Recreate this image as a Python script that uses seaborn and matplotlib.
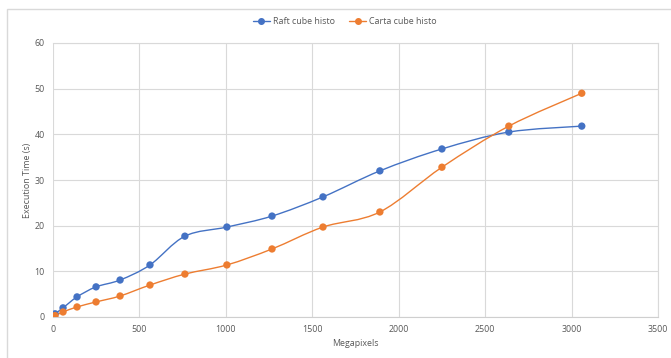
import numpy as np
import pandas as pd
import matplotlib
matplotlib.use("Agg")
import matplotlib.pyplot as plt
import seaborn as sns
from matplotlib.path import Path
from matplotlib.patches import PathPatch, Rectangle
from matplotlib.lines import Line2D

megapixels = [12, 58, 139, 249, 388, 561, 763, 1006, 1267, 1562, 1891, 2250, 2637, 3059]
raft_times = [0.7, 2.0, 4.4, 6.6, 8.1, 11.4, 17.7, 19.7, 22.1, 26.3, 32.0, 36.8, 40.5, 41.8]
carta_times = [0.3, 1.1, 2.2, 3.3, 4.6, 7.0, 9.4, 11.4, 14.9, 19.7, 23.0, 32.8, 41.8, 49.0]
series_names = ["Raft cube histo", "Carta cube histo"]
x_ticks = [0, 500, 1000, 1500, 2000, 2500, 3000, 3500]
y_ticks = [0, 10, 20, 30, 40, 50, 60]

colors = ["#4472C4", "#ED7D31"]
text_gray = "#595959"
grid_gray = "#D9D9D9"
font_size = 6.4

df = pd.DataFrame({
    "Megapixels": megapixels * 2,
    "Time": raft_times + carta_times,
    "Series": [series_names[0]] * len(megapixels) + [series_names[1]] * len(megapixels),
})

sns.set_theme(style="white")
plt.rcParams["font.family"] = ["Open Sans", "DejaVu Sans"]

fig = plt.figure(figsize=(6.71, 3.58), dpi=100)
ax = fig.add_axes([53 / 671, 1 - 317 / 358, 605 / 671, 274 / 358])

# chart frame (open towards the right and bottom edges of the image)
fig.patches.append(Rectangle((7 / 671, -10 / 358), 680 / 671, 359 / 358,
                             transform=fig.transFigure, fill=False,
                             edgecolor=grid_gray, linewidth=1.0))


def smooth_path(xs, ys):
    """Cubic Bezier through the points (Catmull-Rom style tangents)."""
    pts = np.column_stack([xs, ys]).astype(float)
    n = len(pts)
    verts = [pts[0]]
    codes = [Path.MOVETO]
    for i in range(n - 1):
        p0 = pts[i - 1] if i > 0 else pts[i]
        p1 = pts[i]
        p2 = pts[i + 1]
        p3 = pts[i + 2] if i + 2 < n else pts[i + 1]
        c1 = p1 + (p2 - p0) / 6.0
        c2 = p2 - (p3 - p1) / 6.0
        verts += [c1, c2, p2]
        codes += [Path.CURVE4] * 3
    return Path(verts, codes)


for name, color in zip(series_names, colors):
    sub = df[df["Series"] == name]
    ax.add_patch(PathPatch(smooth_path(sub["Megapixels"], sub["Time"]),
                           facecolor="none", edgecolor=color, linewidth=1.0,
                           zorder=3))

sns.scatterplot(data=df, x="Megapixels", y="Time", hue="Series",
                palette=colors, s=28, edgecolor="none", legend=False,
                ax=ax, zorder=4)

ax.set_xlim(0, 3500)
ax.set_ylim(0, 60)
ax.set_xticks(x_ticks)
ax.set_yticks(y_ticks)
ax.grid(True, color=grid_gray, linewidth=0.8)
ax.set_axisbelow(True)
for side, sp in ax.spines.items():
    sp.set_visible(side in ("bottom", "right", "top"))
    sp.set_color(grid_gray)
    sp.set_linewidth(0.8)
ax.spines["bottom"].set_color("#CFCFCF")
ax.tick_params(axis="both", length=0, labelsize=font_size, colors=text_gray, pad=6)
ax.set_xlabel("Megapixels", fontsize=font_size, color=text_gray, labelpad=3)
ax.set_ylabel("Execution Time (s)", fontsize=font_size, color=text_gray, labelpad=2)

handles = [Line2D([0], [0], color=c, marker="o", markersize=4, linewidth=1.0)
           for c in colors]
leg = fig.legend(handles, series_names, loc="center", ncol=2,
                 bbox_to_anchor=(0.514, 1 - 22 / 358), frameon=False,
                 fontsize=font_size, handlelength=1.9, columnspacing=1.6,
                 handletextpad=0.35)
for t in leg.get_texts():
    t.set_color(text_gray)

fig.savefig("out.png", dpi=100)
